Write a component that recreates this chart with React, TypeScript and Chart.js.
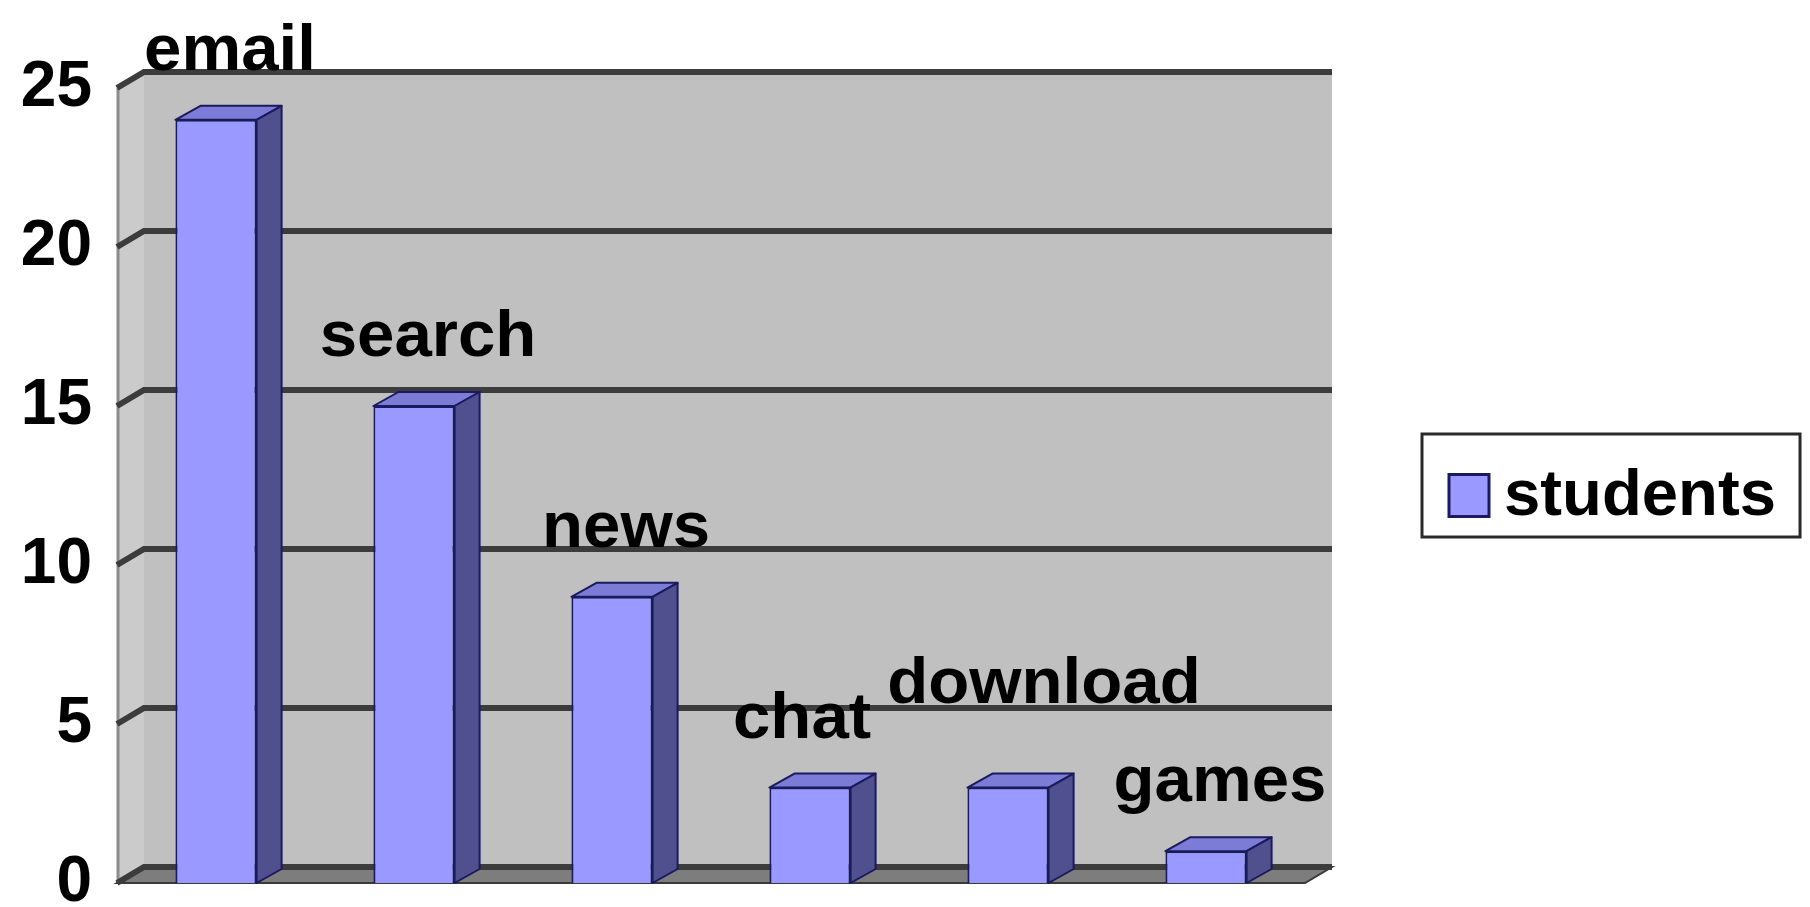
import React, { useEffect, useRef } from "react";
import { Chart, registerables } from "chart.js";

Chart.register(...registerables);

// ---- data ----
const categories: string[] = ["email", "search", "news", "chat", "download", "games"];
const students: number[] = [24, 15, 9, 3, 3, 1];
const seriesName = "students";
const yMin = 0;
const yMax = 25;
const yStep = 5;

// ---- style ----
const FONT = "'Liberation Sans', Arial, Helvetica, sans-serif";
const WALL_DX = 27;
const WALL_DY = -16;
const BAR_DX = 25;
const BAR_DY = -14;
const FRONT = "#9999ff";
const SIDE = "#50508f";
const TOP = "#7c7cd6";
const EDGE = "#1a1a5e";
const STRETCH = 1.05;
const LEGEND_STRETCH = 1.02;

export default function App() {
  const ref = useRef<HTMLCanvasElement | null>(null);

  useEffect(() => {
    const canvas = ref.current;
    if (!canvas) return;

    const wallPlugin = {
      id: "walls3d",
      beforeDatasetsDraw(chart: any) {
        const { ctx, chartArea: a, scales } = chart;
        const ys = scales.y;
        const top = ys.getPixelForValue(yMax);
        const bottom = ys.getPixelForValue(yMin);
        ctx.save();
        // side wall
        ctx.beginPath();
        ctx.moveTo(a.left, top);
        ctx.lineTo(a.left + WALL_DX, top + WALL_DY);
        ctx.lineTo(a.left + WALL_DX, bottom + WALL_DY);
        ctx.lineTo(a.left, bottom);
        ctx.closePath();
        ctx.fillStyle = "#cbcbcb";
        ctx.fill();
        ctx.strokeStyle = "#8c8c8c";
        ctx.lineWidth = 3;
        ctx.beginPath();
        ctx.moveTo(a.left + 1, top);
        ctx.lineTo(a.left + 1, bottom);
        ctx.stroke();
        // back wall
        ctx.fillStyle = "#c0c0c0";
        ctx.fillRect(a.left + WALL_DX, top + WALL_DY, a.right - a.left, bottom - top);
        // floor
        ctx.beginPath();
        ctx.moveTo(a.left, bottom);
        ctx.lineTo(a.right, bottom);
        ctx.lineTo(a.right + WALL_DX, bottom + WALL_DY);
        ctx.lineTo(a.left + WALL_DX, bottom + WALL_DY);
        ctx.closePath();
        ctx.fillStyle = "#7d7d7d";
        ctx.fill();
        ctx.strokeStyle = "#3a3a3a";
        ctx.lineWidth = 2;
        ctx.stroke();
        // grid lines on back and side walls
        ctx.strokeStyle = "#3c3c3c";
        ctx.lineWidth = 6;
        ctx.lineCap = "butt";
        for (let v = yMin; v <= yMax; v += yStep) {
          const py = ys.getPixelForValue(v);
          ctx.beginPath();
          ctx.moveTo(a.left, py);
          ctx.lineTo(a.left + WALL_DX, py + WALL_DY);
          ctx.lineTo(a.right + WALL_DX, py + WALL_DY);
          ctx.stroke();
        }
        ctx.restore();
      },
      afterDatasetsDraw(chart: any) {
        const { ctx } = chart;
        const meta = chart.getDatasetMeta(0);
        ctx.save();
        ctx.lineJoin = "round";
        ctx.lineWidth = 2;
        ctx.strokeStyle = EDGE;
        type Lab = { text: string; cx: number; base: number; half: number; asc: number; desc: number };
        const labs: Lab[] = [];
        ctx.font = `bold 64px ${FONT}`;
        meta.data.forEach((bar: any, i: number) => {
          const { x, y, base, width } = bar.getProps(["x", "y", "base", "width"], true);
          const l = x - width / 2;
          const r = x + width / 2;
          // top face
          ctx.beginPath();
          ctx.moveTo(l, y);
          ctx.lineTo(l + BAR_DX, y + BAR_DY);
          ctx.lineTo(r + BAR_DX, y + BAR_DY);
          ctx.lineTo(r, y);
          ctx.closePath();
          ctx.fillStyle = TOP;
          ctx.fill();
          ctx.stroke();
          // side face
          ctx.beginPath();
          ctx.moveTo(r, y);
          ctx.lineTo(r + BAR_DX, y + BAR_DY);
          ctx.lineTo(r + BAR_DX, base + BAR_DY);
          ctx.lineTo(r, base);
          ctx.closePath();
          ctx.fillStyle = SIDE;
          ctx.fill();
          ctx.stroke();

          const text = categories[i];
          const m = ctx.measureText(text);
          labs.push({
            text,
            cx: x + 14,
            base: y - 50,
            half: (m.width * STRETCH) / 2,
            asc: m.actualBoundingBoxAscent,
            desc: m.actualBoundingBoxDescent,
          });
        });
        // resolve collisions between neighbouring labels
        for (let i = 1; i < labs.length; i++) {
          const p = labs[i - 1];
          const c = labs[i];
          const ox = p.cx + p.half - (c.cx - c.half);
          const oy = c.base - c.asc < p.base + p.desc && c.base + c.desc > p.base - p.asc;
          if (ox > 0 && oy) {
            const s = ox / 2 + 8;
            p.cx -= s;
            c.cx += s;
            c.base = Math.min(c.base, p.base - p.asc + 12);
          }
        }
        ctx.fillStyle = "#000";
        ctx.textAlign = "center";
        ctx.textBaseline = "alphabetic";
        for (const lb of labs) {
          ctx.save();
          ctx.translate(lb.cx, lb.base);
          ctx.scale(STRETCH, 1);
          ctx.fillText(lb.text, 0, 0);
          ctx.restore();
        }
        ctx.restore();
      },
      afterDraw(chart: any) {
        const { ctx, chartArea: a } = chart;
        const label = chart.data.datasets[0].label as string;
        ctx.save();
        ctx.font = `bold 64px ${FONT}`;
        const tw = ctx.measureText(label).width * LEGEND_STRETCH;
        const sw = 40;
        const boxL = a.right + 117;
        const boxW = Math.min(27 + sw + 17 + tw + 22, chart.width - 4 - boxL);
        const boxH = 103;
        const boxT = (a.top + a.bottom) / 2 - boxH / 2;
        ctx.fillStyle = "#fff";
        ctx.fillRect(boxL, boxT, boxW, boxH);
        ctx.strokeStyle = "#2a2a2a";
        ctx.lineWidth = 3;
        ctx.strokeRect(boxL, boxT, boxW, boxH);
        const midY = boxT + boxH / 2 + 10;
        const sy = midY - 21;
        ctx.fillStyle = FRONT;
        ctx.fillRect(boxL + 27, sy, sw, 42);
        ctx.strokeStyle = EDGE;
        ctx.lineWidth = 3;
        ctx.strokeRect(boxL + 27, sy, sw, 42);
        ctx.fillStyle = "#000";
        ctx.textAlign = "left";
        ctx.textBaseline = "middle";
        ctx.translate(boxL + 27 + sw + 15, midY + 2);
        ctx.scale(LEGEND_STRETCH, 1);
        ctx.fillText(label, 0, 0);
        ctx.restore();
      },
    };

    const chart = new Chart(canvas, {
      type: "bar",
      data: {
        labels: categories,
        datasets: [
          {
            label: seriesName,
            data: students,
            backgroundColor: FRONT,
            borderColor: EDGE,
            borderWidth: 2,
            categoryPercentage: 1,
            barPercentage: 0.41,
          },
        ],
      },
      options: {
        animation: false,
        responsive: false,
        maintainAspectRatio: false,
        devicePixelRatio: 1,
        layout: { padding: { top: 88, right: 505, bottom: 24, left: 0 } },
        plugins: { legend: { display: false }, tooltip: { enabled: false } },
        scales: {
          x: { display: false },
          y: {
            min: yMin,
            max: yMax,
            grid: { display: false, drawTicks: false },
            border: { display: false },
            ticks: {
              stepSize: yStep,
              padding: 25,
              color: "#000",
              font: { family: FONT, size: 64, weight: "bold" },
            },
            afterFit(scale: any) {
              scale.width = 117;
              scale.paddingTop = 0;
              scale.paddingBottom = 0;
            },
          },
        },
      },
      plugins: [wallPlugin],
    } as any);

    return () => chart.destroy();
  }, []);

  return (
    <div style={{ position: "absolute", left: 0, top: 0, width: 1810, height: 907, background: "#fff" }}>
      <canvas ref={ref} width={1810} height={907} style={{ display: "block" }} />
    </div>
  );
}
